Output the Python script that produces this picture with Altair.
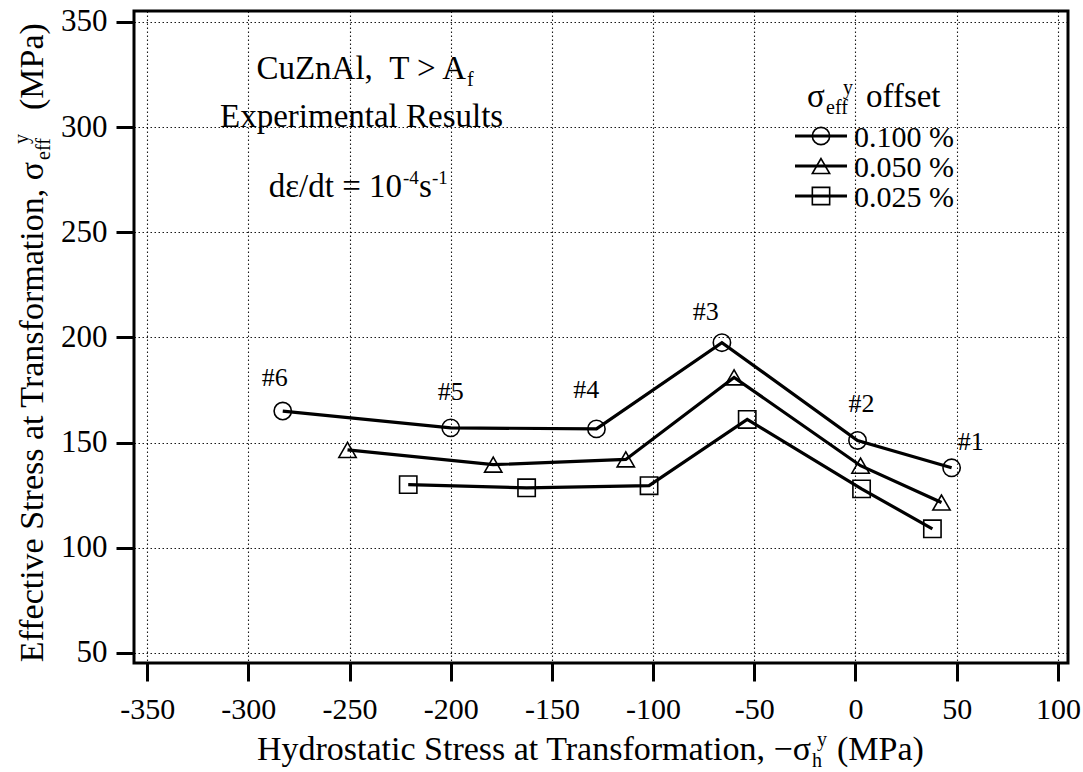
import altair as alt
import pandas as pd

FONT = "Liberation Serif"

# ---- data -----------------------------------------------------------------
specimens = ["#6", "#5", "#4", "#3", "#2", "#1"]
offsets = ["0.100 %", "0.050 %", "0.025 %"]
shapes = ["circle", "triangle-up", "square"]

# hydrostatic stress at transformation, -sigma_h^y (MPa)
hydro_0100 = [-283, -200, -128, -66, 1, 47.5]
hydro_0050 = [-251, -179, -113.5, -60, 2.5, 42.5]
hydro_0025 = [-221, -162.5, -102, -53.5, 3, 38]

# effective stress at transformation, sigma_eff^y (MPa)
eff_0100 = [165, 157, 156.5, 197.5, 151, 138]
eff_0050 = [146.5, 139.5, 142, 181, 139, 121.5]
eff_0025 = [130, 128.5, 129.5, 161, 128, 109]

# specimen tags, placed in data units next to the 0.100 % points
tag_hydro = [-287, -200, -133, -74, 3, 57]
tag_eff = [180.5, 174, 175, 212, 168.5, 150.5]

x_ticks = [-350, -300, -250, -200, -150, -100, -50, 0, 50, 100]
y_ticks = [50, 100, 150, 200, 250, 300, 350]

rows = []
for name, xs, ys in zip(offsets, [hydro_0100, hydro_0050, hydro_0025],
                        [eff_0100, eff_0050, eff_0025]):
    for i, (xv, yv) in enumerate(zip(xs, ys)):
        rows.append({"offset": name, "order": i, "hydro": xv, "eff": yv})
df = pd.DataFrame(rows)
tags = pd.DataFrame({"tag": specimens, "hydro": tag_hydro, "eff": tag_eff})

# ---- geometry of the plot frame (page pixels) -----------------------------
LEFT, TOP = 134, 11
W, H = 934, 652
PAGE_W, PAGE_H = 1083, 772

x_scale = alt.Scale(domain=[-356.5, 105], nice=False, zero=False)
y_scale = alt.Scale(domain=[45.2, 355.2], nice=False, zero=False)

axis_style = dict(
    grid=True, gridColor="black", gridDash=[1.5, 2.5], gridWidth=1.1,
    gridOpacity=0.9, domain=False, ticks=True, tickColor="black",
    tickWidth=3, tickSize=18, labelFont=FONT, labelColor="black", title=None,
)
x_axis = alt.Axis(values=x_ticks, labelFontSize=30, labelPadding=13,
                  labelExpr="'' + datum.value", **axis_style)
y_axis = alt.Axis(values=y_ticks, labelFontSize=31, labelPadding=9, **axis_style)

X = alt.X("hydro:Q", scale=x_scale, axis=x_axis)
Y = alt.Y("eff:Q", scale=y_scale, axis=y_axis)
shape_scale = alt.Scale(domain=offsets, range=shapes)

LINE_W = 3.2
MARK_SIZE = 300

lines = alt.Chart(df).mark_line(color="black", strokeWidth=LINE_W).encode(
    x=X, y=Y, detail="offset:N", order="order:Q"
)
points = alt.Chart(df).mark_point(
    filled=False, color="black", strokeWidth=1.6, size=MARK_SIZE, opacity=1
).encode(x=X, y=Y, shape=alt.Shape("offset:N", scale=shape_scale, legend=None))

tag_text = alt.Chart(tags).mark_text(
    font=FONT, fontSize=26, color="black", baseline="middle"
).encode(x=X, y=Y, text="tag:N")


def note(text, px, py, size, align="left", angle=0):
    """Text placed at page-pixel position (px, py), alphabetic baseline."""
    return alt.Chart(pd.DataFrame({"s": [text]})).mark_text(
        align=align, baseline="alphabetic", angle=angle, font=FONT,
        fontSize=size, color="black",
    ).encode(text="s:N", x=alt.value(px - LEFT), y=alt.value(py - TOP))


layers = [lines, points, tag_text]

# material / condition notes
layers += [
    note("CuZnAl,\u00a0\u00a0T > A", 466, 79, 33, align="right"),
    note("f", 467, 86, 20),
    note("Experimental Results", 220, 127, 33),
    note("d\u03b5/dt = 10", 402, 197, 33, align="right"),
    note("-4", 403, 184, 19),
    note("s", 419, 197, 33),
    note("-1", 432, 184, 19),
]

# legend block
layers += [
    note("\u03c3", 807, 107, 33),
    note("eff", 826, 114, 20),
    note("y", 843, 94, 20),
    note("offset", 866, 107, 33),
]
for i, name in enumerate(offsets):
    cy = 136 + 30 * i
    one = pd.DataFrame({"offset": [name]})
    layers.append(
        alt.Chart(one).mark_rule(color="black", strokeWidth=LINE_W).encode(
            x=alt.value(795 - LEFT), x2=alt.value(847 - LEFT),
            y=alt.value(cy - TOP),
        )
    )
    layers.append(
        alt.Chart(one).mark_point(
            filled=False, color="black", strokeWidth=1.6, size=MARK_SIZE, opacity=1,
        ).encode(
            x=alt.value(821 - LEFT), y=alt.value(cy - TOP),
            shape=alt.Shape("offset:N", scale=shape_scale, legend=None),
        )
    )
    layers.append(note(name, 854, cy + 11, 30))

# x-axis title with sub/superscripts
layers += [
    note("Hydrostatic Stress at Transformation, \u2212\u03c3", 811, 760, 34, align="right"),
    note("h", 812, 767, 20),
    note("y", 817, 746, 20),
    note("(MPa)", 837, 760, 34),
]

# y-axis title, rotated to read bottom to top
layers += [
    note("Effective Stress at Transformation, \u03c3", 43, 162, 34, align="right", angle=270),
    note("eff", 50, 160, 20, angle=270),
    note("y", 28, 144, 20, angle=270),
    note("(MPa)", 43, 110, 34, angle=270),
]

chart = alt.layer(*layers).properties(
    width=W,
    height=H,
    autosize=alt.AutoSizeParams(type="none"),
    padding={"left": LEFT, "top": TOP, "right": PAGE_W - LEFT - W,
             "bottom": PAGE_H - TOP - H},
    background="white",
).configure(
    font=FONT
).configure_view(
    stroke="black", strokeWidth=3
).configure_axis(
    labelFont=FONT, labelColor="black"
)

chart.save("out.html", embed_options={"renderer": "svg", "actions": False})
